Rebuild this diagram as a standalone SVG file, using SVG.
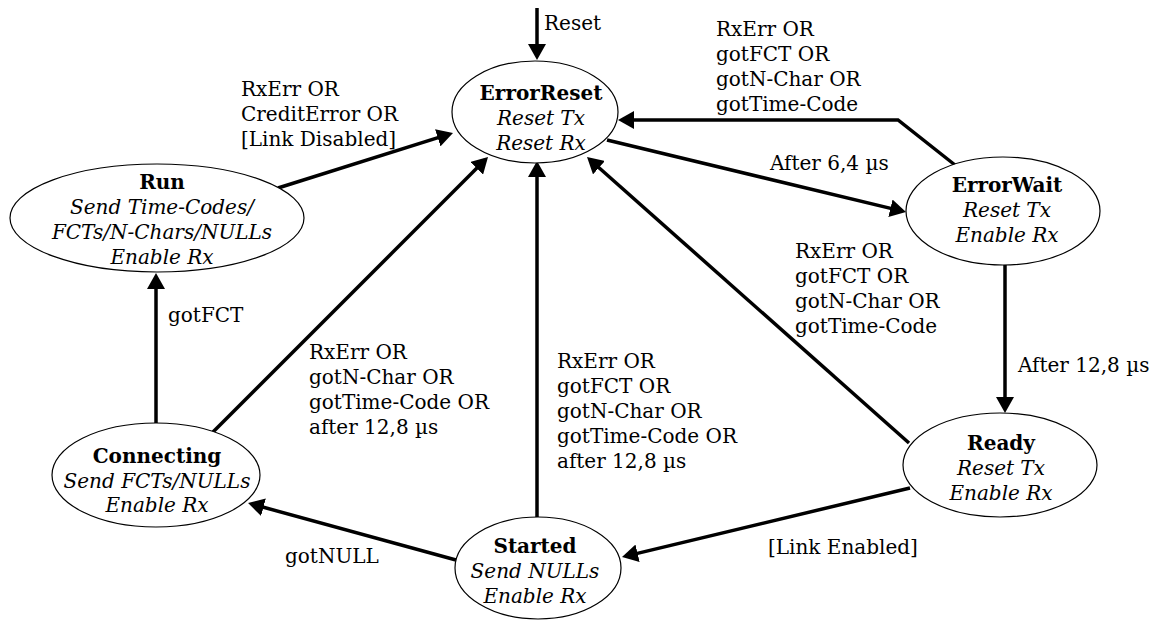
<svg xmlns="http://www.w3.org/2000/svg" width="1149" height="620" viewBox="0 0 1149 620">
<style>
  .node ellipse { fill: #ffffff; stroke: #000000; stroke-width: 1.2; }
  text { font-family: "DejaVu Serif", "Liberation Serif", serif; font-size: 20px; fill: #000000; }
  .t { text-anchor: middle; font-weight: bold; }
  .s { text-anchor: middle; font-style: italic; }
  .edge { fill: none; stroke: #000000; stroke-width: 3.5; marker-end: url(#arrow); }
</style>
<defs>
  <marker id="arrow" markerUnits="userSpaceOnUse" viewBox="0 0 16 18" refX="12" refY="9" markerWidth="16" markerHeight="18" orient="auto">
    <path d="M0,0 L16,9 L0,18 z" fill="#000000"/>
  </marker>
</defs>
<rect width="1149" height="620" fill="#ffffff"/>

<g id="connectors">
  <path class="edge" d="M537,8 L537,56"/>
  <path class="edge" d="M278,188 L449.2,134.2"/>
  <path class="edge" d="M213,432 L485.2,159.8"/>
  <path class="edge" d="M537,517 L537,165"/>
  <path class="edge" d="M909,443 L590,159.7"/>
  <path class="edge" d="M955,165 L898,120 L622,120"/>
  <path class="edge" d="M607,140 L902.1,211.1"/>
  <path class="edge" d="M1005,265 L1005,409"/>
  <path class="edge" d="M910,488 L625.9,556.1"/>
  <path class="edge" d="M456,560 L251.9,504.1"/>
  <path class="edge" d="M156,423 L156,277"/>
</g>

<g id="labels">
  <text x="544" y="30">Reset</text>
  <text x="241" y="96">RxErr OR</text>
  <text x="241" y="121">CreditError OR</text>
  <text x="241" y="146">[Link Disabled]</text>
  <text x="716" y="36">RxErr OR</text>
  <text x="716" y="61">gotFCT OR</text>
  <text x="716" y="86">gotN-Char OR</text>
  <text x="716" y="111">gotTime-Code</text>
  <text x="770" y="170">After 6,4 µs</text>
  <text x="795" y="258">RxErr OR</text>
  <text x="795" y="283">gotFCT OR</text>
  <text x="795" y="308">gotN-Char OR</text>
  <text x="795" y="333">gotTime-Code</text>
  <text x="1018" y="372">After 12,8 µs</text>
  <text x="168" y="322">gotFCT</text>
  <text x="309" y="359">RxErr OR</text>
  <text x="309" y="384">gotN-Char OR</text>
  <text x="309" y="409">gotTime-Code OR</text>
  <text x="309" y="434">after 12,8 µs</text>
  <text x="557" y="368">RxErr OR</text>
  <text x="557" y="393">gotFCT OR</text>
  <text x="557" y="418">gotN-Char OR</text>
  <text x="557" y="443">gotTime-Code OR</text>
  <text x="557" y="468">after 12,8 µs</text>
  <text x="768" y="554">[Link Enabled]</text>
  <text x="285" y="563">gotNULL</text>
</g>

<g id="ErrorReset" class="node">
  <ellipse cx="535" cy="112" rx="83" ry="51"/>
  <text class="t" x="541" y="100">ErrorReset</text>
  <text class="s" x="541" y="125">Reset Tx</text>
  <text class="s" x="541" y="150">Reset Rx</text>
</g>
<g id="Run" class="node">
  <ellipse cx="157" cy="218" rx="147" ry="54"/>
  <text class="t" x="162" y="189">Run</text>
  <text class="s" x="162" y="214">Send Time-Codes/</text>
  <text class="s" x="162" y="239">FCTs/N-Chars/NULLs</text>
  <text class="s" x="162" y="264">Enable Rx</text>
</g>
<g id="ErrorWait" class="node">
  <ellipse cx="1003" cy="211" rx="97" ry="54"/>
  <text class="t" x="1007" y="192">ErrorWait</text>
  <text class="s" x="1007" y="217">Reset Tx</text>
  <text class="s" x="1007" y="242">Enable Rx</text>
</g>
<g id="Ready" class="node">
  <ellipse cx="1000" cy="465" rx="97" ry="52"/>
  <text class="t" x="1001" y="450">Ready</text>
  <text class="s" x="1001" y="475">Reset Tx</text>
  <text class="s" x="1001" y="500">Enable Rx</text>
</g>
<g id="Connecting" class="node">
  <ellipse cx="156" cy="475" rx="104" ry="52"/>
  <text class="t" x="157" y="463">Connecting</text>
  <text class="s" x="157" y="488">Send FCTs/NULLs</text>
  <text class="s" x="157" y="512">Enable Rx</text>
</g>
<g id="Started" class="node">
  <ellipse cx="538" cy="568" rx="83" ry="51"/>
  <text class="t" x="535" y="553">Started</text>
  <text class="s" x="535" y="578">Send NULLs</text>
  <text class="s" x="535" y="603">Enable Rx</text>
</g>
</svg>
